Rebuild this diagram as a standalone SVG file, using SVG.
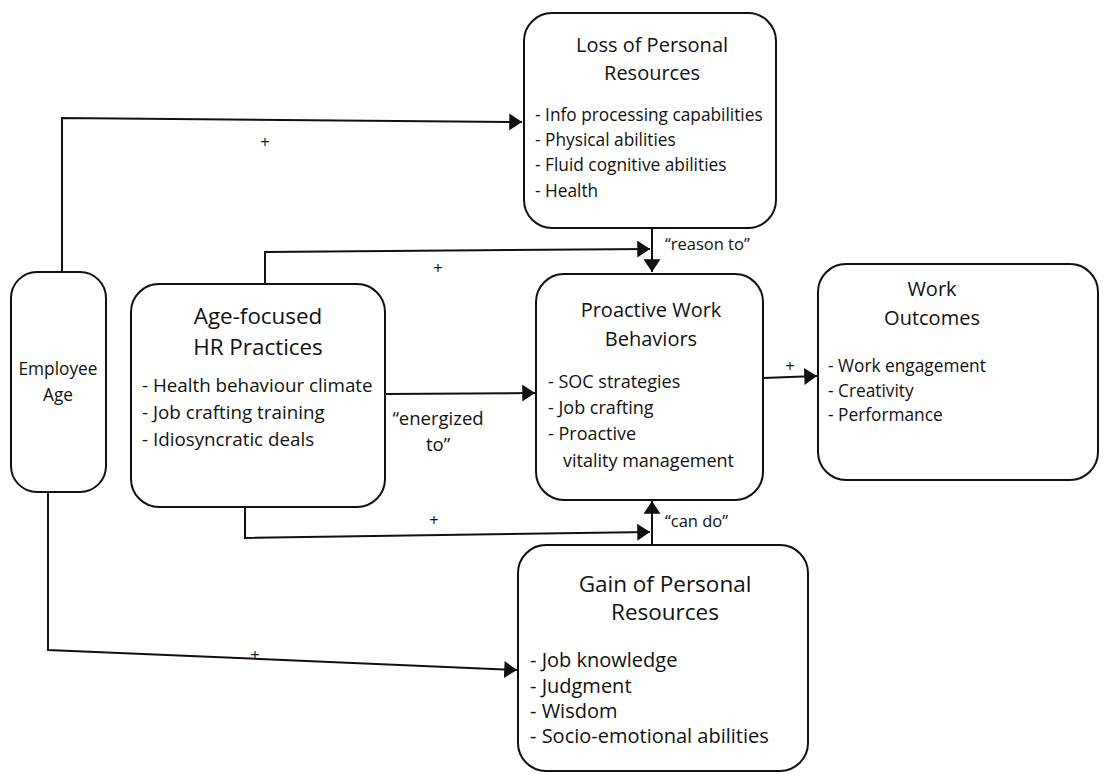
<svg xmlns="http://www.w3.org/2000/svg" width="1106" height="774" viewBox="0 0 1106 774">
<style>
.box{fill:#fff;stroke:#111;stroke-width:2}
.t{font-family:"Open Sans","Noto Sans",sans-serif;font-size:20px;fill:#111;text-anchor:middle}
.i{font-family:"Open Sans","Noto Sans",sans-serif;font-size:17.3px;fill:#111}
.l{font-family:"Open Sans","Noto Sans",sans-serif;font-size:16.5px;fill:#111}
.c{fill:none;stroke:#111;stroke-width:2}
</style>
<defs>
<marker id="ah" viewBox="0 0 12 16" refX="12" refY="8" markerWidth="13" markerHeight="17" markerUnits="userSpaceOnUse" orient="auto">
<path d="M0,0 L12,8 L0,16 z" fill="#111"/>
</marker>
</defs>
<rect width="1106" height="774" fill="#fff"/>
<g id="connectors">
<polyline class="c" points="62,272 62,118 522,122" marker-end="url(#ah)"/>
<text class="l" x="265" y="148" text-anchor="middle">+</text>
<polyline class="c" points="265,283 265,252 650,249" marker-end="url(#ah)"/>
<text class="l" x="438" y="274" text-anchor="middle">+</text>
<line class="c" x1="652" y1="228" x2="652" y2="272" marker-end="url(#ah)"/>
<text class="l" x="665" y="250">“reason to”</text>
<line class="c" x1="385" y1="394" x2="535" y2="393" marker-end="url(#ah)"/>
<text class="l" x="438" y="425" text-anchor="middle" style="font-size:18.5px">“energized</text>
<text class="l" x="438" y="451" text-anchor="middle" style="font-size:18.5px">to”</text>
<polyline class="c" points="245,507 245,538 650,532" marker-end="url(#ah)"/>
<text class="l" x="434" y="526" text-anchor="middle">+</text>
<line class="c" x1="652" y1="545" x2="652" y2="501" marker-end="url(#ah)"/>
<text class="l" x="665" y="527">“can do”</text>
<polyline class="c" points="48,490 48,650 517,670" marker-end="url(#ah)"/>
<text class="l" x="255" y="661" text-anchor="middle">+</text>
<line class="c" x1="763" y1="378" x2="817" y2="376" marker-end="url(#ah)"/>
<text class="l" x="790" y="372" text-anchor="middle">+</text>
</g>
<g id="loss">
<rect class="box" x="524" y="13" width="252" height="215" rx="28"/>
<text class="t" x="652" y="52">Loss of Personal</text>
<text class="t" x="652" y="80">Resources</text>
<text class="i" x="535" y="121">- Info processing capabilities</text>
<text class="i" x="535" y="146">- Physical abilities</text>
<text class="i" x="535" y="171">- Fluid cognitive abilities</text>
<text class="i" x="535" y="197">- Health</text>
</g>
<g id="employee-age">
<rect class="box" x="11" y="272" width="95" height="220" rx="26"/>
<text class="i" x="58" y="375" text-anchor="middle">Employee</text>
<text class="i" x="58" y="401" text-anchor="middle">Age</text>
</g>
<g id="hr">
<rect class="box" x="131" y="284" width="254" height="223" rx="28"/>
<text class="t" x="258" y="324" style="font-size:22.4px">Age-focused</text>
<text class="t" x="258" y="355" style="font-size:22.4px">HR Practices</text>
<text class="i" x="142" y="392" style="font-size:18.8px">- Health behaviour climate</text>
<text class="i" x="142" y="419" style="font-size:18.8px">- Job crafting training</text>
<text class="i" x="142" y="446" style="font-size:18.8px">- Idiosyncratic deals</text>
</g>
<g id="proactive">
<rect class="box" x="536" y="274" width="227" height="226" rx="28"/>
<text class="t" x="651" y="317">Proactive Work</text>
<text class="t" x="651" y="346">Behaviors</text>
<text class="i" x="548" y="388" style="font-size:18px">- SOC strategies</text>
<text class="i" x="548" y="414" style="font-size:18px">- Job crafting</text>
<text class="i" x="548" y="440" style="font-size:18px">- Proactive</text>
<text class="i" x="563" y="467" style="font-size:18px">vitality management</text>
</g>
<g id="outcomes">
<rect class="box" x="818" y="264" width="280" height="216" rx="28"/>
<text class="t" x="932" y="296">Work</text>
<text class="t" x="932" y="325">Outcomes</text>
<text class="i" x="828" y="372">- Work engagement</text>
<text class="i" x="828" y="397">- Creativity</text>
<text class="i" x="828" y="421">- Performance</text>
</g>
<g id="gain">
<rect class="box" x="518" y="545" width="290" height="226" rx="28"/>
<text class="t" x="665" y="592" style="font-size:22.5px">Gain of Personal</text>
<text class="t" x="665" y="620" style="font-size:22.5px">Resources</text>
<text class="i" x="530" y="667" style="font-size:20px">- Job knowledge</text>
<text class="i" x="530" y="693" style="font-size:20px">- Judgment</text>
<text class="i" x="530" y="718" style="font-size:20px">- Wisdom</text>
<text class="i" x="530" y="743" style="font-size:20px">- Socio-emotional abilities</text>
</g>
</svg>
